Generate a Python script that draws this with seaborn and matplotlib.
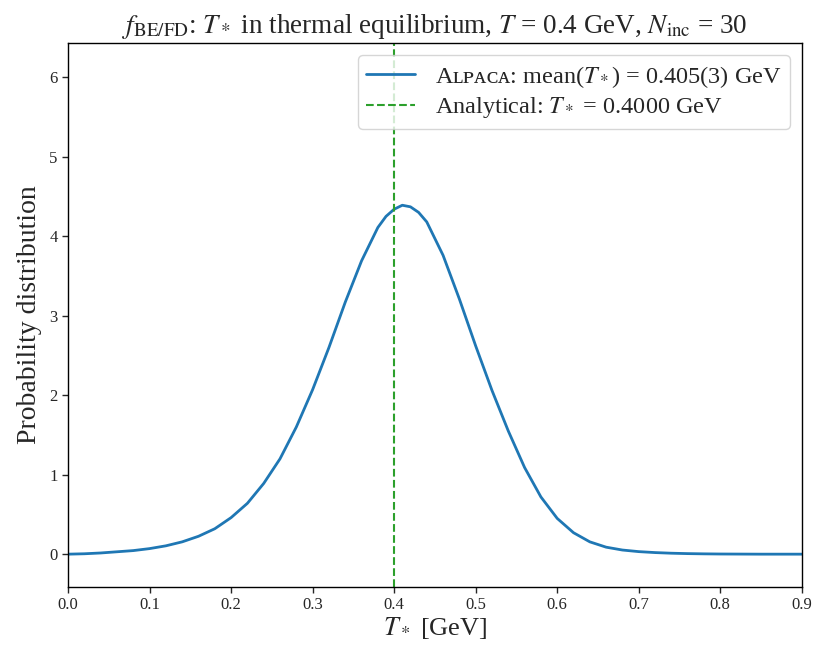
import pandas as pd
import matplotlib
matplotlib.use("Agg")
import matplotlib.pyplot as plt
import seaborn as sns

# values
t_star = [0.00, 0.02, 0.04, 0.06, 0.08, 0.10, 0.12, 0.14, 0.16, 0.18,
          0.20, 0.22, 0.24, 0.26, 0.28, 0.30, 0.32, 0.34, 0.36, 0.38,
          0.39, 0.40, 0.41, 0.42, 0.43, 0.44, 0.46, 0.48, 0.50, 0.52,
          0.54, 0.56, 0.58, 0.60, 0.62, 0.64, 0.66, 0.68, 0.70, 0.72,
          0.74, 0.76, 0.78, 0.80, 0.85, 0.90]
prob = [0.000, 0.005, 0.015, 0.030, 0.045, 0.070, 0.105, 0.155, 0.225, 0.320,
        0.460, 0.640, 0.890, 1.200, 1.600, 2.070, 2.600, 3.170, 3.690, 4.110,
        4.250, 4.340, 4.390, 4.370, 4.300, 4.180, 3.760, 3.210, 2.620, 2.060,
        1.550, 1.090, 0.720, 0.450, 0.270, 0.155, 0.088, 0.052, 0.032, 0.020,
        0.012, 0.007, 0.004, 0.002, 0.000, 0.000]
t_analytic = 0.4

data = pd.DataFrame({'T': t_star, 'P': prob})

sns.set_style('ticks')
plt.rcParams['font.family'] = ['Liberation Serif', 'DejaVu Serif']
plt.rcParams['mathtext.fontset'] = 'stix'

fig = plt.figure(figsize=(8.3, 6.63), dpi=100)
ax = fig.add_axes([0.082, 0.115, 0.884, 0.820])

sns.lineplot(data=data, x='T', y='P', ax=ax, color='#1f77b4', linewidth=2,
             label='Aʟᴘᴀᴄᴀ: mean($T_*$) = 0.405(3) GeV')
ax.axvline(t_analytic, color='tab:green', linestyle='--', linewidth=1.5,
           label='Analytical: $T_*$ = 0.4000 GeV')

ax.set_xlim(0, 0.9)
ax.set_ylim(-0.41, 6.43)
ax.set_xticks([0.0, 0.1, 0.2, 0.3, 0.4, 0.5, 0.6, 0.7, 0.8, 0.9])
ax.set_yticks([0, 1, 2, 3, 4, 5, 6])
ax.tick_params(labelsize=12, direction='out', length=4, width=1)
for s in ax.spines.values():
    s.set_linewidth(1.0)
    s.set_color('black')

ax.set_title(r'$f_{\mathrm{BE/FD}}$: $T_*$ in thermal equilibrium, $T$ = 0.4 GeV, $N_{\mathrm{inc}}$ = 30',
             fontsize=19.5, pad=7)
ax.set_xlabel(r'$T_*$ [GeV]', fontsize=19, labelpad=1)
ax.set_ylabel('Probability distribution', fontsize=20, labelpad=5)
ax.legend(loc='upper right', fontsize=17.5, framealpha=0.8, handlelength=2,
          labelspacing=0.22, borderpad=0.35)

fig.savefig('out.png', dpi=100)
